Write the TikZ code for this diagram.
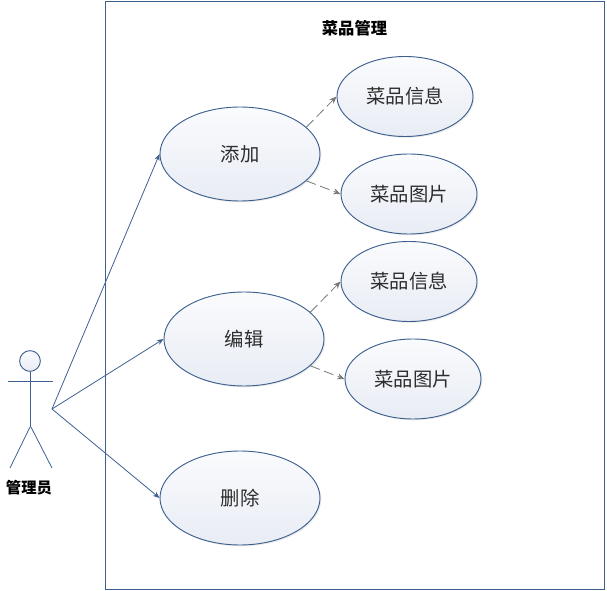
\documentclass[tikz,border=0pt]{standalone}
\usepackage{fontspec}
\setmainfont{Noto Sans CJK SC}
\usetikzlibrary{shapes.geometric,arrows.meta,shadows}
\definecolor{lineBlue}{RGB}{62, 96, 143}
\definecolor{arrowGray}{RGB}{120, 120, 120}
\definecolor{fillTop}{RGB}{250, 251, 253}
\definecolor{fillBottom}{RGB}{232, 236, 244}
\definecolor{darkText}{RGB}{45, 45, 45}
\tikzset{
    usecase/.style={ellipse,draw=lineBlue,line width=0.7pt,top color=fillTop,bottom color=fillBottom,
        drop shadow={shadow xshift=1pt,shadow yshift=-1pt,fill=black!12,opacity=0.6},
        inner sep=0pt,text=darkText,font=\fontsize{14.5}{16}\selectfont},
    bigcase/.style={usecase,minimum width=120pt,minimum height=70.5pt},
    smallcase/.style={usecase,minimum width=102pt,minimum height=60pt},
    solidlink/.style={draw=lineBlue,line width=0.6pt,-{Stealth[length=5pt,width=4pt]}},
    dashlink/.style={draw=arrowGray,line width=0.6pt,dash pattern=on 7.5pt off 3.5pt,-{Stealth[length=5.5pt,width=4.5pt]}},
    limb/.style={draw=lineBlue,line width=0.6pt},
    titlelabel/.style={font=\fontsize{11.5}{14}\selectfont\bfseries,text=black,inner sep=0pt}
}
\begin{document}
\begin{tikzpicture}[x=0.75pt,y=-0.75pt]
    \useasboundingbox (0,0) rectangle (607,591);
    \node[draw=lineBlue,line width=0.7pt,minimum width=374.6pt,minimum height=440.8pt,inner sep=0pt,anchor=north west] (frame) at (105,1) {};
    \node[titlelabel,font=\fontsize{12.2}{14}\selectfont\bfseries] (title) at (354.5,28) {菜品管理};

    % use cases
    \node[bigcase] (add) at (240,154) {添加};
    \node[bigcase] (edit) at (244,339) {编辑};
    \node[bigcase] (del) at (240,498) {删除};
    \node[smallcase] (addinfo) at (405,96.5) {\raisebox{-0.7pt}{菜品信息}};
    \node[smallcase] (addpic) at (409,194) {菜品图片};
    \node[smallcase] (editinfo) at (409,281.5) {\raisebox{-0.7pt}{菜品信息}};
    \node[smallcase] (editpic) at (413,379) {菜品图片};

    % actor
    \node[circle,draw=lineBlue,line width=0.7pt,top color=fillTop,bottom color=fillBottom,minimum size=15.5pt,inner sep=0pt] (head) at (30,361) {};
    \coordinate (hip) at (30,427);
    \coordinate (hipR) at (31,427);
    \coordinate (armL) at (8,381);
    \coordinate (armR) at (53,381);
    \coordinate (footL) at (10,468);
    \coordinate (footR) at (52,468);
    \coordinate (hand) at (52,409);
    \draw[limb] (head) -- (hip);
    \draw[limb] (armL) -- (armR);
    \draw[limb] (footL) -- (hip);
    \draw[limb] (hipR) -- (footR);
    \node[titlelabel] (actor) at (29,488) {管理员};

    % links
    \draw[solidlink] (hand) -- (add.west);
    \draw[solidlink] (hand) -- (edit.west);
    \draw[solidlink] (hand) -- (del.west);
    \draw[dashlink] (add.22) -- (addinfo.west);
    \draw[dashlink] (add.-22) -- (addpic.west);
    \draw[dashlink] (edit.22) -- (editinfo.west);
    \draw[dashlink] (edit.-22) -- (editpic.west);
\end{tikzpicture}
\end{document}
